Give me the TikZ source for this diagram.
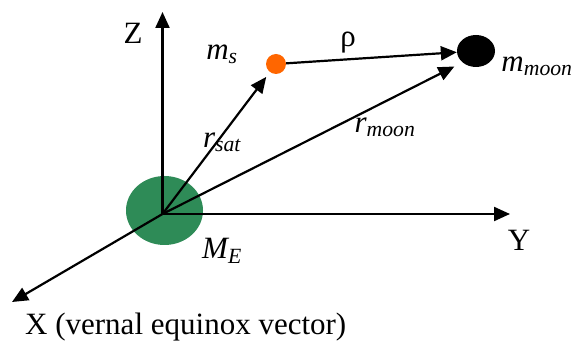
\documentclass[tikz,border=0pt]{standalone}
\usepackage{amsmath}
\usepackage{fontspec}
\setmainfont{Liberation Serif}
\usetikzlibrary{arrows.meta, shapes.geometric}
\definecolor{earthgreen}{RGB}{46,139,87}
\definecolor{satorange}{RGB}{255,102,0}

\begin{document}
\begin{tikzpicture}[
  x=1pt, y=-1pt,
  vec/.style={-{Triangle[length=16pt, width=14pt]}, line width=2.2pt},
  body/.style={ellipse, inner sep=0pt},
  lbl/.style={inner sep=0pt, font=\fontsize{31}{37}\selectfont}
]
\useasboundingbox (0,0) rectangle (571,347);

\node[body, fill=earthgreen, minimum width=77pt, minimum height=69pt] (earth) at (164.5,210.5) {};
\node[body, fill=satorange, minimum size=20pt] (sat) at (276,64) {};
\node[body, fill=black, minimum width=38pt, minimum height=32pt] (moon) at (476,51) {};

\coordinate (O) at (162.5,214);
\coordinate (zTip) at (162.5,12);
\coordinate (yTip) at (510,214);
\coordinate (xTip) at (12,302);

\draw[vec] (O) -- (zTip);
\draw[vec] (O) -- (yTip);
\draw[vec] (O) -- (xTip);
\draw[vec, shorten >=6pt] (O) -- (sat);
\draw[vec, shorten >=9pt] (O) -- (moon.south west);
\draw[vec] (sat) -- (moon);

\node[lbl] (zLbl) at (133,33) {Z};
\node[lbl] (yLbl) at (519,240) {Y};
\node[lbl, anchor=west] (xLbl) at (25,327) {X (vernal equinox vector)};
\node[lbl] (msLbl) at (222,54) {$\textit{m}_{\textit{s}}$};
\node[lbl] (rsatLbl) at (222,142) {$\textit{r}_{\textit{sat}}$};
\node[lbl] (rhoLbl) at (348,43) {ρ};
\node[lbl] (mmoonLbl) at (537,66) {$\textit{m}_{\textit{moon}}$};
\node[lbl] (rmoonLbl) at (385,127) {$\textit{r}_{\textit{moon}}$};
\node[lbl] (meLbl) at (222,251) {$\textit{M}_{\textit{E}}$};
\end{tikzpicture}
\end{document}
